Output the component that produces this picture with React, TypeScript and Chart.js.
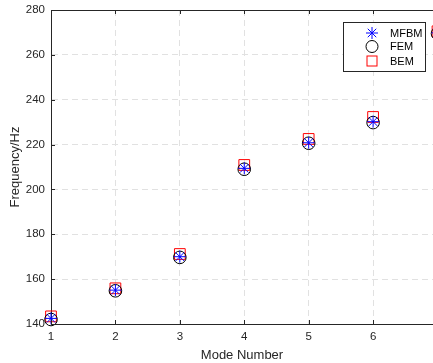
import { useEffect, useRef } from 'react';
import { Chart, registerables } from 'chart.js';

Chart.register(...registerables);

const modes = [1, 2, 3, 4, 5, 6, 7];
const mfbm = [142.5, 155.1, 170.0, 209.4, 220.8, 230.2, 269.8];
const fem = [142.0, 154.8, 169.7, 209.0, 220.6, 229.8, 269.5];
const bem = [143.4, 155.9, 171.2, 210.9, 222.5, 232.3, 270.5];
const xTicks = [1, 2, 3, 4, 5, 6];
const yTicks = [140, 160, 180, 200, 220, 240, 260, 280];
const seriesNames = ['MFBM', 'FEM', 'BEM'];
const xTitle = 'Mode Number';
const yTitle = 'Frequency/Hz';

const TEXT = '#262626';
const FONT = 'Liberation Sans, Arial, sans-serif';

function drawStar(ctx: CanvasRenderingContext2D, x: number, y: number, r: number) {
  const d = r * Math.SQRT1_2;
  ctx.beginPath();
  ctx.moveTo(x - r, y); ctx.lineTo(x + r, y);
  ctx.moveTo(x, y - r); ctx.lineTo(x, y + r);
  ctx.moveTo(x - d, y - d); ctx.lineTo(x + d, y + d);
  ctx.moveTo(x - d, y + d); ctx.lineTo(x + d, y - d);
  ctx.stroke();
}

const decor = {
  id: 'matlabDecor',
  afterDraw(chart: any) {
    const { ctx, chartArea, scales } = chart;
    const { left, top, right, bottom } = chartArea;
    const x = scales.x;
    const y = scales.y;
    ctx.save();
    ctx.strokeStyle = TEXT;
    ctx.lineWidth = 1;
    ctx.beginPath();
    ctx.moveTo(left, Math.round(top) + 0.5);
    ctx.lineTo(right, Math.round(top) + 0.5);
    const tl = 4;
    xTicks.forEach((v) => {
      const px = Math.round(x.getPixelForValue(v)) + 0.5;
      ctx.moveTo(px, top);
      ctx.lineTo(px, top + tl);
      ctx.moveTo(px, bottom);
      ctx.lineTo(px, bottom - tl);
    });
    yTicks.forEach((v) => {
      const py = Math.round(y.getPixelForValue(v)) + 0.5;
      ctx.moveTo(left, py);
      ctx.lineTo(left + tl, py);
    });
    ctx.stroke();

    // legend
    const bx = 343.5, by = 22.5, bw = 82, bh = 49;
    ctx.fillStyle = '#ffffff';
    ctx.fillRect(bx, by, bw, bh);
    ctx.strokeStyle = TEXT;
    ctx.strokeRect(bx, by, bw, bh);
    const mx = 372;
    const rows = [33, 46.5, 61];
    ctx.lineWidth = 1;
    ctx.strokeStyle = '#0000ff';
    drawStar(ctx, mx, rows[0], 6);
    ctx.strokeStyle = '#000000';
    ctx.beginPath();
    ctx.arc(mx, rows[1], 6, 0, Math.PI * 2);
    ctx.stroke();
    ctx.strokeStyle = '#ff0000';
    ctx.strokeRect(mx - 5, rows[2] - 5, 10, 10);
    ctx.fillStyle = '#000000';
    ctx.font = `11px ${FONT}`;
    ctx.textBaseline = 'middle';
    ctx.textAlign = 'left';
    seriesNames.forEach((n, i) => ctx.fillText(n, 390, rows[i] + 0.5));
    ctx.restore();
  },
};

export default function App() {
  const ref = useRef<HTMLCanvasElement>(null);
  useEffect(() => {
    document.body.style.margin = '0';
    const canvas = ref.current!;
    const chart = new Chart(canvas, {
      type: 'scatter',
      data: {
        datasets: [
          {
            label: seriesNames[0],
            data: modes.map((m, i) => ({ x: m, y: mfbm[i] })),
            pointStyle: 'star',
            pointRadius: 6,
            borderColor: '#0000ff',
            backgroundColor: 'transparent',
            pointBorderWidth: 1,
            clip: false,
          } as any,
          {
            label: seriesNames[1],
            data: modes.map((m, i) => ({ x: m, y: fem[i] })),
            pointStyle: 'circle',
            pointRadius: 6.3,
            borderColor: '#000000',
            backgroundColor: 'transparent',
            pointBorderWidth: 1,
            clip: false,
          } as any,
          {
            label: seriesNames[2],
            data: modes.map((m, i) => ({ x: m, y: bem[i] })),
            pointStyle: 'rect',
            pointRadius: 7.6,
            borderColor: '#ff0000',
            backgroundColor: 'transparent',
            pointBorderWidth: 1,
            clip: false,
          } as any,
        ],
      },
      options: {
        animation: false,
        responsive: false,
        maintainAspectRatio: false,
        layout: { autoPadding: false, padding: { top: 10, right: 0, left: 0, bottom: 0 } },
        plugins: { legend: { display: false }, tooltip: { enabled: false } },
        scales: {
          x: {
            type: 'linear',
            min: 1,
            max: 6.93,
            afterBuildTicks: (s: any) => { s.ticks = xTicks.map((v) => ({ value: v })); },
            afterFit: (s: any) => { s.height = 39; s.paddingLeft = 0; s.paddingRight = 0; },
            ticks: { color: TEXT, font: { family: FONT, size: 11.5 }, padding: 6, maxRotation: 0 },
            grid: { color: '#e1e1e1', drawTicks: false, lineWidth: 1 },
            border: { display: true, color: TEXT, width: 1, dash: [6, 4] },
            title: { display: true, text: xTitle, color: TEXT, font: { family: FONT, size: 13 }, padding: { top: 0, bottom: 0 } },
          },
          y: {
            type: 'linear',
            min: 140,
            max: 280,
            afterBuildTicks: (s: any) => { s.ticks = yTicks.map((v) => ({ value: v })); },
            afterFit: (s: any) => { s.width = 51; s.paddingTop = 0; s.paddingBottom = 0; },
            ticks: { color: TEXT, font: { family: FONT, size: 11.5 }, padding: 6 },
            grid: { color: '#e1e1e1', drawTicks: false, lineWidth: 1 },
            border: { display: true, color: TEXT, width: 1, dash: [6, 4] },
            title: { display: true, text: yTitle, color: TEXT, font: { family: FONT, size: 13 }, padding: { top: 8, bottom: 0 } },
          },
        },
      } as any,
      plugins: [decor],
    });
    return () => chart.destroy();
  }, []);
  return <canvas ref={ref} width={433} height={363} style={{ display: 'block' }} />;
}
